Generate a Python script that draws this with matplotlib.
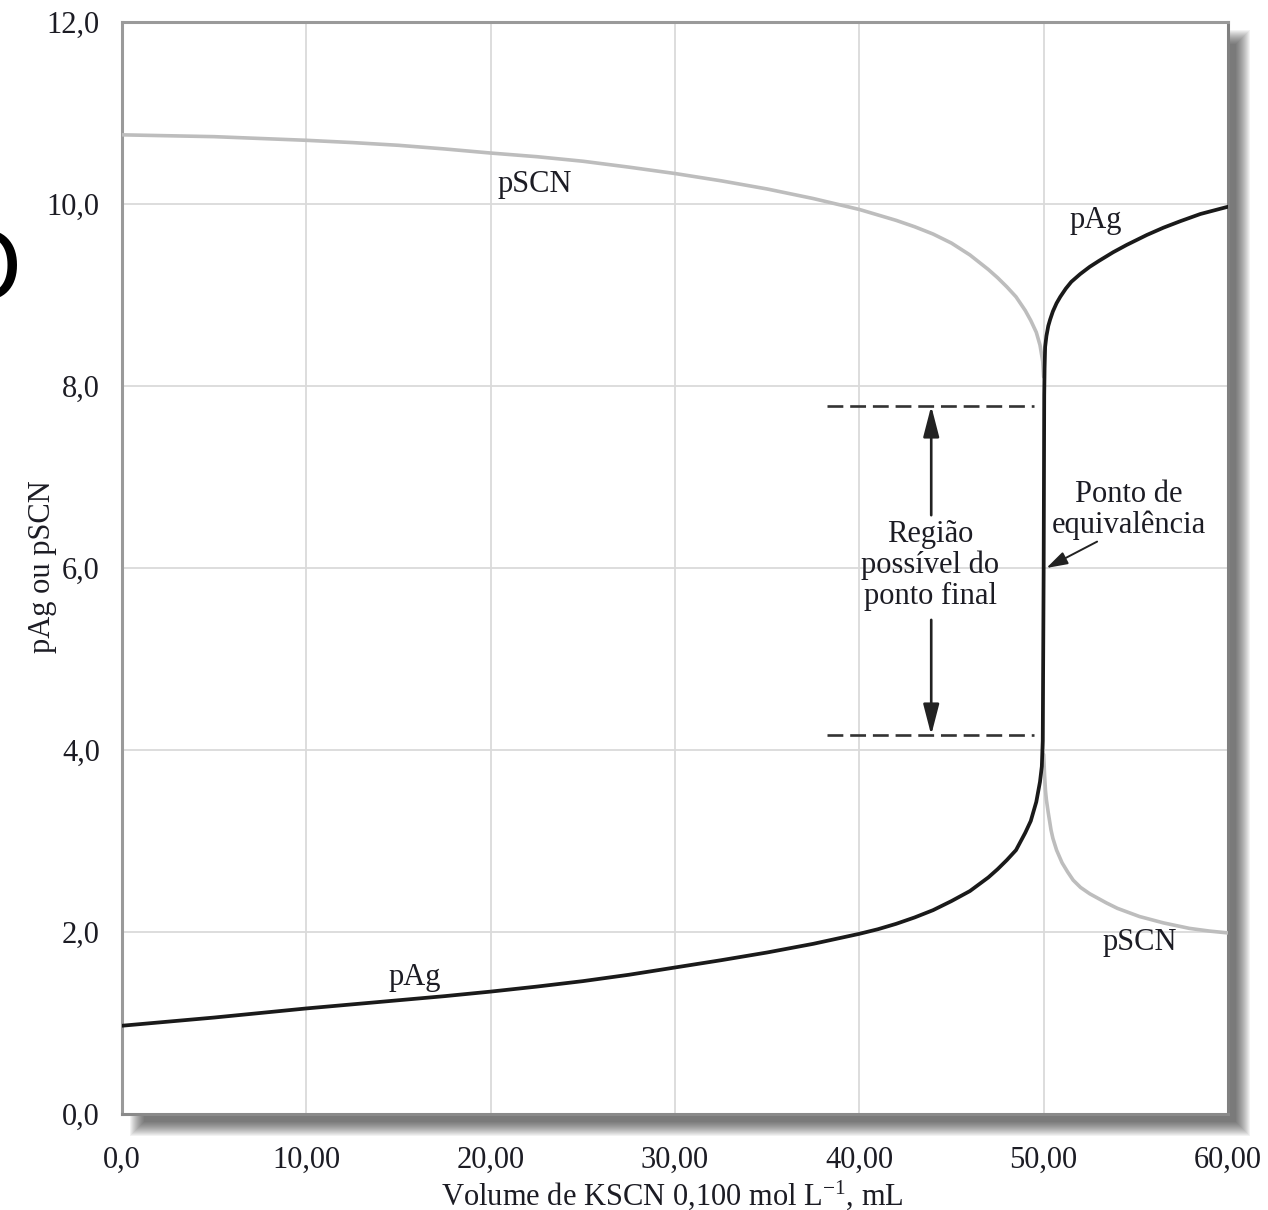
import matplotlib
matplotlib.use("Agg")
import matplotlib.pyplot as plt
from matplotlib.patches import Rectangle

plt.rcParams['font.family'] = ['Liberation Serif', 'DejaVu Serif']
plt.rcParams['mathtext.fontset'] = 'custom'
plt.rcParams['mathtext.rm'] = 'Liberation Serif'
plt.rcParams['mathtext.it'] = 'Liberation Serif:italic'
plt.rcParams['mathtext.bf'] = 'Liberation Serif:bold'

# ---------------- data ----------------
pag_x = [0, 2.5, 5, 7.5, 10, 12.5, 15, 17.5, 20, 22.5, 25, 27.5, 30, 32.5, 35, 37.5, 40,
         41, 42, 43, 44, 45, 46, 47, 47.5, 48, 48.5, 49, 49.3, 49.6, 49.8, 49.9, 49.95,
         50.0, 50.03, 50.05, 50.08, 50.15, 50.25, 50.35, 50.5, 50.7, 50.9, 51.2, 51.5,
         51.98, 52.5, 53, 53.77, 54.5, 55.6, 56.5, 57.4, 58.5, 60]
pag_y = [0.97, 1.015, 1.06, 1.11, 1.16, 1.205, 1.25, 1.295, 1.345, 1.40, 1.46, 1.53, 1.61,
         1.69, 1.775, 1.87, 1.98, 2.03, 2.09, 2.16, 2.24, 2.34, 2.45, 2.60, 2.69, 2.79, 2.90,
         3.09, 3.22, 3.43, 3.65, 3.82, 4.1, 6.0, 7.9, 8.2, 8.43, 8.55, 8.66, 8.73, 8.82, 8.91,
         8.98, 9.07, 9.145, 9.23, 9.31, 9.375, 9.47, 9.55, 9.66, 9.74, 9.81, 9.89, 9.97]

pscn_before_x = [0, 2.5, 5, 7.5, 10, 12.5, 15, 17.5, 20, 22.5, 25, 27.5, 30, 32.5, 35, 37.5,
                 40, 41, 42, 43, 44, 45, 46, 47, 47.5, 48, 48.5, 49, 49.3, 49.6, 49.8, 49.95, 50.0]
pscn_before_y = [10.76, 10.75, 10.74, 10.72, 10.70, 10.675, 10.645, 10.605, 10.56, 10.52, 10.47,
                 10.405, 10.335, 10.255, 10.165, 10.06, 9.94, 9.88, 9.82, 9.75, 9.67, 9.57, 9.44,
                 9.28, 9.19, 9.09, 8.98, 8.83, 8.72, 8.59, 8.45, 8.27, 8.1]

pscn_after_x = [50.0, 50.05, 50.1, 50.15, 50.25, 50.4, 50.5, 50.7, 51, 51.3, 51.6, 52, 52.5,
                53.4, 54, 55.2, 56.5, 57.9, 59, 60]
pscn_after_y = [3.95, 3.72, 3.55, 3.45, 3.31, 3.12, 3.03, 2.90, 2.76, 2.66, 2.57, 2.49, 2.42,
                2.32, 2.26, 2.17, 2.10, 2.04, 2.01, 1.99]

xticks = [0, 10, 20, 30, 40, 50, 60]
xtick_labels = ["0,0", "10,00", "20,00", "30,00", "40,00", "50,00", "60,00"]
yticks = [0, 2, 4, 6, 8, 10, 12]
ytick_labels = ["0,0", "2,0", "4,0", "6,0", "8,0", "10,0", "12,0"]

endpoint_range_x = [38.24, 49.45]
endpoint_upper = 7.78
endpoint_lower = 4.165
region_arrow_x = 43.9
region_text_top = 6.58
region_text_bottom = 5.43
region_text_pos = (43.85, 6.03)
equiv_text_pos = (54.6, 6.64)
equiv_arrow_tail = (52.9, 6.29)
equiv_arrow_head = (50.15, 6.0)

label_pscn_top = (22.4, 10.21)
label_pag_top = (52.8, 9.82)
label_pag_bottom = (15.9, 1.50)
label_pscn_bottom = (55.2, 1.89)

# ---------------- figure ----------------
W, H = 1268, 1210
fig = plt.figure(figsize=(W / 100, H / 100), dpi=100)
L, R, T, B = 122, 1228, 22, 1114
ax = fig.add_axes([L / W, 1 - B / H, (R - L) / W, (B - T) / H])
ax.set_facecolor('white')


def px_rect(x0, y0, x1, y1, **kw):
    return Rectangle((x0 / W, 1 - y1 / H), (x1 - x0) / W, (y1 - y0) / H,
                     transform=fig.transFigure, **kw)


# drop shadow behind the plotting frame
off = 15
for e in range(-7, 8):
    fig.add_artist(px_rect(L + off - e, T + off - e, R + off + e, B + off + e,
                           facecolor='#202020', edgecolor='none', alpha=0.055, zorder=-5))

txt_color = '#1c1c24'

ax.set_xlim(0, 60)
ax.set_ylim(0, 12)
ax.set_xticks(xticks)
ax.set_xticklabels(xtick_labels)
ax.set_yticks(yticks)
ax.set_yticklabels(ytick_labels)
ax.tick_params(axis='x', length=0, pad=23, labelsize=22, labelcolor=txt_color)
ax.tick_params(axis='y', length=0, pad=16, labelsize=22, labelcolor=txt_color)
ax.grid(True, color='#dadada', lw=1.3)
ax.set_axisbelow(True)
for s in ax.spines.values():
    s.set_color('#9a9a9a')
    s.set_linewidth(2.2)
ax.spines['right'].set_color('#808080')
ax.spines['bottom'].set_color('#8a8a8a')

# curves
line_kw = dict(solid_capstyle='round', solid_joinstyle='round')
ax.plot(pscn_before_x, pscn_before_y, color='#bdbdbd', lw=2.6, zorder=3, **line_kw)
ax.plot(pscn_after_x, pscn_after_y, color='#bdbdbd', lw=2.6, zorder=3, **line_kw)
ax.plot(pag_x, pag_y, color='#1a1a1a', lw=2.7, zorder=4, **line_kw)

# end point region
for yv in (endpoint_upper, endpoint_lower):
    ax.plot(endpoint_range_x, [yv, yv], color='#333333', lw=1.9, ls=(0, (6, 2.6)), zorder=3)

arrow_kw = dict(arrowstyle='-|>,head_length=0.85,head_width=0.22', color='#222222',
                lw=1.9, mutation_scale=22, shrinkA=0, shrinkB=0)
ax.annotate('', xy=(region_arrow_x, endpoint_upper), xytext=(region_arrow_x, region_text_top),
            arrowprops=arrow_kw, zorder=5)
ax.annotate('', xy=(region_arrow_x, endpoint_lower), xytext=(region_arrow_x, region_text_bottom),
            arrowprops=arrow_kw, zorder=5)
ax.text(*region_text_pos, "Região\npossível do\nponto final", ha='center', va='center',
        fontsize=22, linespacing=1.08, color=txt_color, zorder=6)

ax.text(*equiv_text_pos, "Ponto de\nequivalência", ha='center', va='center',
        fontsize=22, linespacing=1.08, color=txt_color, zorder=6)
ax.annotate('', xy=equiv_arrow_head, xytext=equiv_arrow_tail,
            arrowprops=dict(arrowstyle='-|>,head_length=0.8,head_width=0.25', color='#222222',
                            lw=1.4, mutation_scale=16, shrinkA=0, shrinkB=0), zorder=6)

# curve labels
ax.text(*label_pscn_top, "pSCN", ha='center', va='center', fontsize=22, color=txt_color)
ax.text(*label_pag_top, "pAg", ha='center', va='center', fontsize=22, color=txt_color)
ax.text(*label_pag_bottom, "pAg", ha='center', va='center', fontsize=22, color=txt_color)
ax.text(*label_pscn_bottom, "pSCN", ha='center', va='center', fontsize=22, color=txt_color)

# axis labels
fig.text(672 / W, 1 - 1205 / H, "Volume de KSCN 0,100 mol L$^{-1}$, mL", ha='center',
         va='baseline', fontsize=22, color=txt_color)
fig.text(43 / W, 1 - 567 / H, "pAg ou pSCN", ha='center', va='center', rotation=90,
         fontsize=22, color=txt_color)

# cropped glyph at the left edge of the original picture
fig.text(-14 / W, 1 - 299 / H, "O", ha='center', va='baseline', fontsize=66,
         family='DejaVu Sans', color='black')

fig.savefig("out.png", dpi=100)
